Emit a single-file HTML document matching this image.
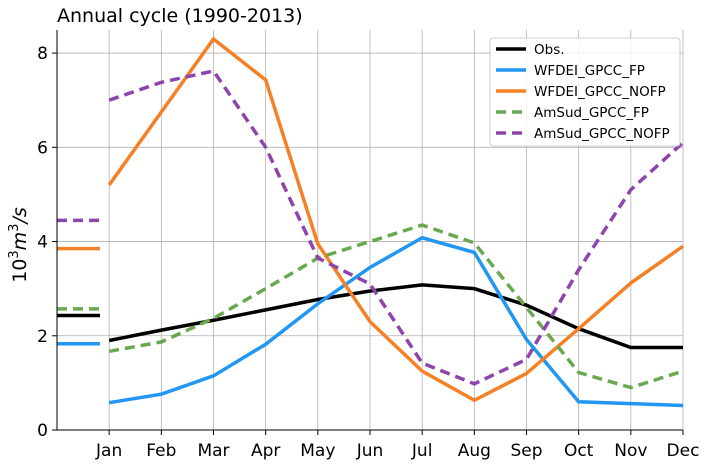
<!DOCTYPE html>
<html><head><meta charset="utf-8"><style>
body{margin:0;background:#fff;width:706px;height:465px;overflow:hidden}
svg{font-family:"DejaVu Sans","Liberation Sans",sans-serif}
</style></head><body>
<svg id="chart" width="706" height="465" xmlns="http://www.w3.org/2000/svg">
<text x="57" y="22" font-size="19" fill="#000">Annual cycle (1990-2013)</text>
<g id="grid"></g><g id="series"></g><g id="axes"></g>
<text transform="translate(26,245) rotate(-90)" text-anchor="middle" font-size="19">10<tspan font-size="13" dy="-8">3</tspan><tspan dy="8" font-style="italic">m</tspan><tspan font-size="13" dy="-8">3</tspan><tspan dy="8" font-style="italic">/s</tspan></text>
<g id="legend"></g>
</svg>
<script>
const months=["Jan","Feb","Mar","Apr","May","Jun","Jul","Aug","Sep","Oct","Nov","Dec"];
const yTicks=[0,2,4,6,8];
const names=["Obs.","WFDEI_GPCC_FP","WFDEI_GPCC_NOFP","AmSud_GPCC_FP","AmSud_GPCC_NOFP"];
const obs=[1.9,2.12,2.33,2.55,2.77,2.95,3.08,3.0,2.65,2.15,1.75,1.75];
const wfdeiFP=[0.58,0.76,1.15,1.82,2.68,3.45,4.08,3.77,1.92,0.6,0.56,0.52];
const wfdeiNOFP=[5.2,6.75,8.3,7.43,3.95,2.3,1.25,0.63,1.2,2.15,3.12,3.9];
const amsudFP=[1.67,1.87,2.37,3.0,3.65,4.0,4.35,3.97,2.6,1.22,0.9,1.25];
const amsudNOFP=[7.0,7.38,7.62,6.0,3.65,3.1,1.42,0.98,1.5,3.4,5.1,6.1];
const annualMeans=[2.43,1.83,3.85,2.57,4.45];
const colors=["#000000","#2196f3","#f58025","#6aa84f","#8e44ad"];
const dashes=["","","","10,6","10,6"];
const seriesData=[obs,wfdeiFP,wfdeiNOFP,amsudFP,amsudNOFP];
const ns="http://www.w3.org/2000/svg";
const L=57,R=683,T=30,B=430;
const x=i=>L+(i+1)*(R-L)/12;
const y=v=>B-v*(B-T)/8.49;
function mk(tag,attrs,parent){const e=document.createElementNS(ns,tag);for(const k in attrs)e.setAttribute(k,attrs[k]);parent.appendChild(e);return e;}
const grid=document.getElementById('grid'),axes=document.getElementById('axes'),ser=document.getElementById('series'),leg=document.getElementById('legend');
months.forEach((m,i)=>{
 const g=mk('line',{x1:x(i),x2:x(i),y1:T,y2:B,stroke:'#b0b0b0','stroke-width':0.8},grid);
 
 
 mk('line',{x1:x(i),x2:x(i),y1:B,y2:B+5,stroke:'#000'},axes);
 const t=mk('text',{x:x(i),y:B+26,'text-anchor':'middle','font-size':17},axes);t.textContent=m;
 
 
});
yTicks.forEach(v=>{
 const g=mk('line',{x1:L,x2:R,y1:y(v),y2:y(v),stroke:'#b0b0b0','stroke-width':0.8},grid);
 
 
 mk('line',{x1:L-5,x2:L,y1:y(v),y2:y(v),stroke:'#000'},axes);
 const t=mk('text',{x:L-9,y:y(v)+6,'text-anchor':'end','font-size':17},axes);t.textContent=v;
 
 
});
mk('line',{x1:L,x2:L,y1:T,y2:B,stroke:'#000','stroke-width':1},axes);
mk('line',{x1:L,x2:R,y1:B,y2:B,stroke:'#000','stroke-width':1},axes);
seriesData.forEach((d,s)=>{
 const p=mk('polyline',{points:d.map((v,i)=>x(i)+','+y(v)).join(' '),fill:'none',stroke:colors[s],'stroke-width':3.5,'stroke-dasharray':dashes[s]},ser);
 
 
 const m=mk('line',{x1:L,x2:100,y1:y(annualMeans[s]),y2:y(annualMeans[s]),stroke:colors[s],'stroke-width':3.5,'stroke-dasharray':dashes[s]},ser);
 
 
});
mk('rect',{x:490,y:38,width:190,height:108,rx:3,fill:'#fff','fill-opacity':0.85,stroke:'#ccc'},leg);
names.forEach((n,s)=>{
 const yy=49+s*21;
 mk('line',{x1:496,x2:526,y1:yy,y2:yy,stroke:colors[s],'stroke-width':3.5,'stroke-dasharray':dashes[s]},leg);
 const t=mk('text',{x:534,y:yy+5,'font-size':13.5},leg);t.textContent=n;
 
 
});
</script>
</body></html>
